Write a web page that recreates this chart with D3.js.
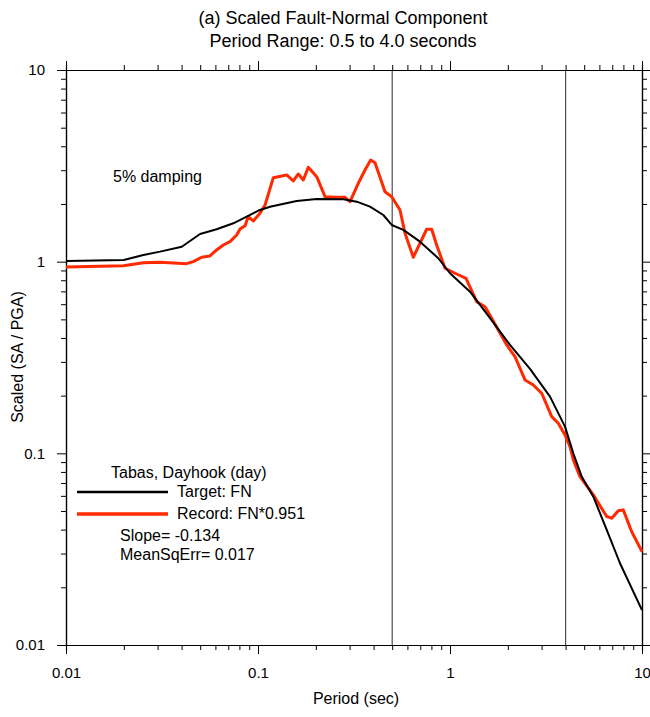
<!DOCTYPE html>
<html>
<head>
<meta charset="utf-8">
<script src="https://cdn.jsdelivr.net/npm/d3@7"></script>
<style>
  body { margin: 0; background: #fff; }
  svg text { font-family: Arial, "Liberation Sans", sans-serif; fill: #000; }
</style>
</head>
<body>
<div id="chart"></div>
<script>
// Period (sec) / scaled spectral acceleration
var targetPeriod = [0.01, 0.02, 0.0253, 0.0309, 0.0401, 0.0499, 0.0609, 0.0744, 0.0873, 0.1024,
  0.1155, 0.159, 0.2022, 0.2782, 0.3266, 0.383, 0.4495, 0.497, 0.5713, 0.698, 0.869, 1.0,
  1.271, 1.616, 2.053, 2.61, 3.318, 3.972, 4.387, 4.852, 5.578, 6.55, 7.68, 10];
var targetSA = [1.008, 1.02, 1.084, 1.128, 1.197, 1.395, 1.476, 1.586, 1.717, 1.861,
  1.936, 2.073, 2.124, 2.116, 2.056, 1.936, 1.752, 1.554, 1.464, 1.272, 1.042, 0.87,
  0.6975, 0.508, 0.3676, 0.2756, 0.1976, 0.1378, 0.1001, 0.0756, 0.0594, 0.0399, 0.0267, 0.0152];

var recordPeriod = [0.01, 0.0199, 0.0253, 0.0309, 0.0425, 0.046, 0.0509, 0.0562, 0.0609, 0.066,
  0.0715, 0.0775, 0.0806, 0.0856, 0.089, 0.0945, 0.1024, 0.1088, 0.1202, 0.1411, 0.1527,
  0.1622, 0.1722, 0.1828, 0.2022, 0.2234, 0.257, 0.2838, 0.3014, 0.333, 0.3608, 0.3864,
  0.4068, 0.4587, 0.497, 0.549, 0.583, 0.644, 0.756, 0.803, 0.852, 0.942, 1.062, 1.212,
  1.377, 1.522, 1.649, 1.974, 2.18, 2.458, 2.716, 3.004, 3.386, 3.665, 3.972, 4.217,
  4.387, 4.754, 5.578, 6.55, 6.953, 7.525, 7.99, 8.84, 10];
var recordSA = [0.938, 0.953, 0.988, 0.993, 0.976, 1.0, 1.054, 1.071, 1.151, 1.222,
  1.272, 1.378, 1.481, 1.541, 1.72, 1.63, 1.788, 1.976, 2.743, 2.834, 2.636,
  2.868, 2.669, 3.108, 2.776, 2.183, 2.168, 2.168, 2.056, 2.565, 3.009, 3.393,
  3.285, 2.318, 2.183, 1.861, 1.406, 1.054, 1.476, 1.476, 1.222, 0.924, 0.87, 0.819,
  0.618, 0.582, 0.507, 0.3676, 0.3194, 0.2415, 0.2274, 0.2058, 0.1554, 0.1435, 0.1247, 0.1083,
  0.0924, 0.0756, 0.0607, 0.0468, 0.0459, 0.0502, 0.0507, 0.039, 0.0307];

var periodBounds = [0.5, 4.0];
var majorTicks = [0.01, 0.1, 1, 10];
var tickLabels = ["0.01", "0.1", "1", "10"];

var titleLines = ["(a) Scaled Fault-Normal Component", "Period Range: 0.5 to 4.0 seconds"];
var legendTitle = "Tabas, Dayhook (day)";
var legendNames = ["Target: FN", "Record: FN*0.951"];
var statLines = ["Slope= -0.134", "MeanSqErr= 0.017"];

var W = 650, H = 717;
var margins = {top: 70, right: 8, bottom: 72, left: 66};
var width = W - margins.left - margins.right;   // 576
var height = H - margins.top - margins.bottom;  // 575

var xScale = d3.scaleLog().domain([0.01, 10]).range([0, width]);
var yScale = d3.scaleLog().domain([0.01, 10]).range([height, 0]);

// minor ticks 2..9 within each decade
var minorTicks = [];
[0.01, 0.1, 1].forEach(function(d) {
  for (var k = 2; k <= 9; k++) minorTicks.push(d * k);
});

var svg = d3.select("#chart").append("svg").attr("width", W).attr("height", H);
var chart = svg.append("g")
  .attr("transform", "translate(" + margins.left + "," + margins.top + ")");

// title
svg.selectAll("text.title").data(titleLines).enter().append("text")
  .attr("class", "title")
  .attr("x", 343).attr("y", function(d, i) { return 24 + i * 23; })
  .attr("text-anchor", "middle").attr("font-size", 18)
  .text(function(d) { return d; });

// period range markers
chart.selectAll("line.bound").data(periodBounds).enter().append("line")
  .attr("class", "bound")
  .attr("x1", function(d) { return xScale(d); }).attr("x2", function(d) { return xScale(d); })
  .attr("y1", 0).attr("y2", height)
  .attr("stroke", "#4d4d4d").attr("stroke-width", 1.2);

function drawAxis(axisFn, scale, transform, showLabels) {
  var gMinor = chart.append("g").attr("transform", transform)
    .call(axisFn(scale).tickValues(minorTicks).tickSize(5).tickFormat(""));
  var gMajor = chart.append("g").attr("transform", transform)
    .call(axisFn(scale).tickValues(majorTicks).tickSize(9).tickSizeOuter(0)
      .tickFormat(function(d, i) { return showLabels ? tickLabels[i] : ""; }));
  [gMinor, gMajor].forEach(function(g) {
    g.selectAll("path").attr("stroke", "#000").attr("stroke-width", 1.2);
    g.selectAll("line").attr("stroke", "#000").attr("stroke-width", 1);
    g.selectAll("text").attr("font-size", 15).attr("font-family", "Arial, 'Liberation Sans', sans-serif");
  });
  return gMajor;
}

var xBottom = drawAxis(d3.axisBottom, xScale, "translate(0," + height + ")", true);
xBottom.selectAll("text").attr("dy", "0").attr("y", 33);
drawAxis(d3.axisTop, xScale, "translate(0,0)", false);
var yLeft = drawAxis(d3.axisLeft, yScale, "translate(0,0)", true);
yLeft.selectAll("text").attr("x", -21);
drawAxis(d3.axisRight, yScale, "translate(" + width + ",0)", false);

// axis titles
svg.append("text")
  .attr("x", 356).attr("y", 704).attr("text-anchor", "middle").attr("font-size", 16)
  .text("Period (sec)");
svg.append("text")
  .attr("transform", "translate(23,357) rotate(-90)")
  .attr("text-anchor", "middle").attr("font-size", 16)
  .text("Scaled (SA / PGA)");

var line = d3.line()
  .x(function(d) { return xScale(d[0]); })
  .y(function(d) { return yScale(d[1]); });

var targetData = d3.zip(targetPeriod, targetSA);
var recordData = d3.zip(recordPeriod, recordSA);

chart.append("path").datum(recordData)
  .attr("d", line).attr("fill", "none")
  .attr("stroke", "#ff2a00").attr("stroke-width", 3).attr("stroke-linejoin", "round");
chart.append("path").datum(targetData)
  .attr("d", line).attr("fill", "none")
  .attr("stroke", "#000").attr("stroke-width", 2).attr("stroke-linejoin", "round");

// annotations
svg.append("text").attr("x", 113).attr("y", 182).attr("font-size", 16).text("5% damping");

svg.append("text").attr("x", 111).attr("y", 478).attr("font-size", 16).text(legendTitle);
var legendColors = ["#000", "#ff2a00"];
var legendWidths = [2.5, 3.5];
legendNames.forEach(function(name, i) {
  var y = 492 + i * 22;
  svg.append("line").attr("x1", 77).attr("x2", 168).attr("y1", y).attr("y2", y)
    .attr("stroke", legendColors[i]).attr("stroke-width", legendWidths[i]);
  svg.append("text").attr("x", 177).attr("y", y + 5).attr("font-size", 16).text(name);
});
statLines.forEach(function(s, i) {
  svg.append("text").attr("x", 120).attr("y", 541 + i * 19).attr("font-size", 16).text(s);
});
</script>
</body>
</html>
